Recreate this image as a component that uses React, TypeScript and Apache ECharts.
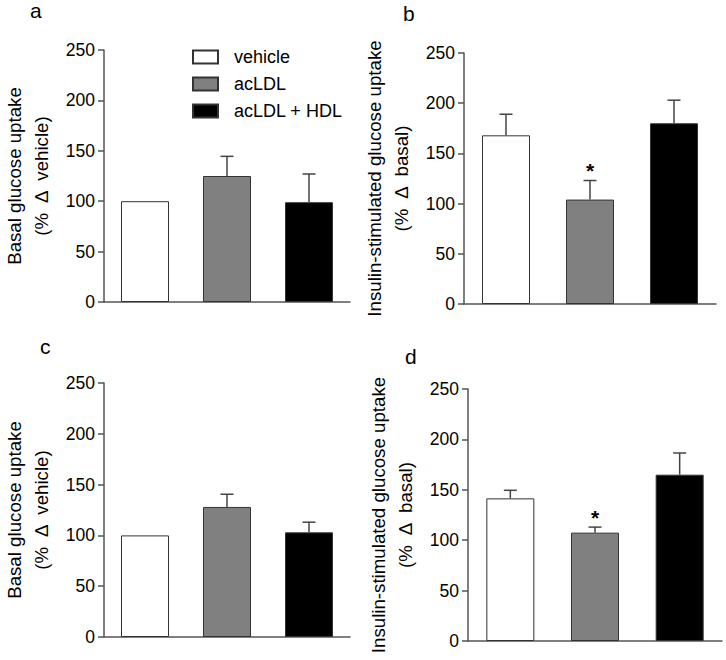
import React, { useEffect, useRef } from "react";
import * as echarts from "echarts";

const groups = ["vehicle", "acLDL", "acLDL + HDL"];
const groupColors = ["#ffffff", "#808080", "#000000"];

const panelLetters = ["a", "b", "c", "d"];
const yNames = [
  "Basal glucose uptake\n(%  \u2206  vehicle)",
  "Insulin-stimulated glucose uptake\n(%  \u2206  basal)",
  "Basal glucose uptake\n(%  \u2206  vehicle)",
  "Insulin-stimulated glucose uptake\n(%  \u2206  basal)",
];

const meansA = [100, 125, 99];
const semA = [0, 19.5, 28];
const meansB = [168, 104, 180];
const semB = [21, 19, 23];
const meansC = [100, 128, 103];
const semC = [0, 12.5, 10];
const meansD = [141.5, 107.5, 165];
const semD = [8, 5.5, 21.5];

const starsA = [false, false, false];
const starsB = [false, true, false];
const starsC = [false, false, false];
const starsD = [false, true, false];

const yTicks = [0, 50, 100, 150, 200, 250];

const FONT = "'Liberation Sans', Arial, Helvetica, sans-serif";

const panels = [
  { means: meansA, sem: semA, stars: starsA },
  { means: meansB, sem: semB, stars: starsB },
  { means: meansC, sem: semC, stars: starsC },
  { means: meansD, sem: semD, stars: starsD },
];

const grids = [
  { left: 96, top: 50, width: 254, height: 252 },
  { left: 464, top: 53, width: 252, height: 251 },
  { left: 96, top: 383, width: 254, height: 254 },
  { left: 468, top: 389, width: 254, height: 252 },
];

const letterPos = [
  { x: 30, y: 10 },
  { x: 403, y: 13 },
  { x: 40, y: 346 },
  { x: 405, y: 356 },
];

export default function App() {
  const ref = useRef<HTMLDivElement>(null);

  useEffect(() => {
    if (!ref.current) return;
    const chart = echarts.init(ref.current, null, { renderer: "svg" });

    const xAxes: any[] = [];
    const yAxes: any[] = [];
    const series: any[] = [];

    panels.forEach((p, i) => {
      xAxes.push({
        type: "category",
        gridIndex: i,
        data: groups,
        axisLine: { lineStyle: { color: "#555", width: 1.5 } },
        axisTick: { show: false },
        axisLabel: { show: false },
      });
      yAxes.push({
        type: "value",
        gridIndex: i,
        min: yTicks[0],
        max: yTicks[yTicks.length - 1],
        interval: 50,
        splitLine: { show: false },
        axisLine: { show: true, lineStyle: { color: "#555", width: 1.5 } },
        axisTick: { show: true, length: 6, lineStyle: { color: "#555", width: 1.5 } },
        axisLabel: {
          color: "#000",
          fontSize: 17.5,
          fontWeight: "normal",
          fontFamily: FONT,
          margin: 9,
        },
        name: yNames[i],
        nameLocation: "middle",
        nameRotate: 90,
        nameGap: 49,
        nameTextStyle: {
          color: "#000",
          fontSize: 18.7,
          fontFamily: FONT,
          lineHeight: 27,
        },
      });
      groups.forEach((g, k) => {
        series.push({
          type: "bar",
          name: g,
          xAxisIndex: i,
          yAxisIndex: i,
          stack: "p" + i,
          barWidth: 48,
          itemStyle: { color: groupColors[k], borderColor: "#333", borderWidth: 1 },
          data: p.means.map((v, j) => (j === k ? v : "-")),
        });
      });
      series.push({
        type: "custom",
        xAxisIndex: i,
        yAxisIndex: i,
        z: 5,
        data: p.means.map((v, j) => [j, v, v + p.sem[j], p.stars[j] ? 1 : 0]),
        renderItem: (params: any, api: any) => {
          const idx = api.value(0);
          const mean = api.value(1);
          const top = api.value(2);
          const star = api.value(3);
          const base = api.coord([idx, mean]);
          const tp = api.coord([idx, top]);
          const children: any[] = [];
          const st = { stroke: "#444", lineWidth: 1.5 };
          if (top > mean) {
            children.push({ type: "line", shape: { x1: base[0], y1: base[1], x2: tp[0], y2: tp[1] }, style: st });
            children.push({ type: "line", shape: { x1: tp[0] - 6.5, y1: tp[1], x2: tp[0] + 6.5, y2: tp[1] }, style: st });
          }
          if (star) {
            children.push({
              type: "text",
              x: tp[0],
              y: tp[1] - 10,
              style: {
                text: "*",
                fontSize: 21,
                fontWeight: "bold",
                fontFamily: FONT,
                fill: "#000",
                align: "center",
                verticalAlign: "middle",
              },
            });
          }
          return { type: "group", children };
        },
      });
    });

    chart.setOption({
      animation: false,
      backgroundColor: "#fff",
      grid: grids.map((g) => ({ ...g, containLabel: false })),
      xAxis: xAxes,
      yAxis: yAxes,
      legend: {
        data: groups,
        orient: "vertical",
        left: 187,
        top: 43,
        itemWidth: 25,
        itemHeight: 13,
        itemGap: 9,
        icon: "rect",
        textStyle: { color: "#000", fontSize: 18, fontFamily: FONT, padding: [0, 0, 0, 11] },
        selectedMode: false,
      },
      graphic: panelLetters.map((l, i) => ({
        type: "text",
        x: letterPos[i].x,
        y: letterPos[i].y,
        style: {
          text: l,
          fontSize: 21,
          fontFamily: FONT,
          fill: "#000",
          verticalAlign: "middle",
        },
      })),
      series,
    });

    return () => chart.dispose();
  }, []);

  return (
    <div
      ref={ref}
      style={{ position: "fixed", left: 0, top: 0, width: 726, height: 660, background: "#fff" }}
    />
  );
}
